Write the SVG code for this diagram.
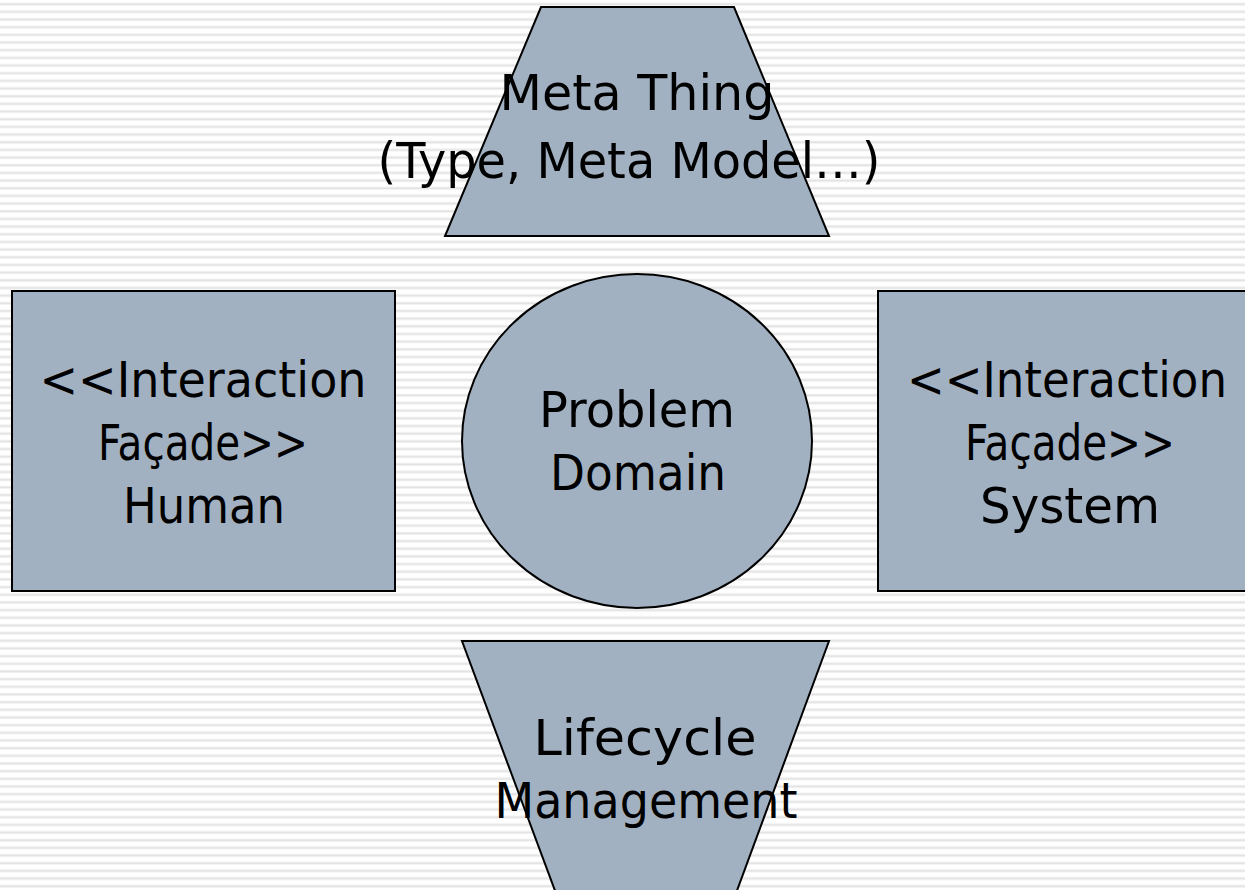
<svg xmlns="http://www.w3.org/2000/svg" width="1245" height="890" viewBox="0 0 1245 890">
  <defs>
    <!-- horizontal pinstripe background -->
    <pattern id="stripes" x="0" y="0" width="20" height="7.67" patternUnits="userSpaceOnUse">
      <rect x="0" y="0" width="20" height="7.67" fill="#ffffff"/>
      <rect x="0" y="2.6" width="20" height="0.8" fill="#f0f0f0"/>
      <rect x="0" y="3.4" width="20" height="1.6" fill="#e2e2e2"/>
      <rect x="0" y="5.0" width="20" height="0.8" fill="#f0f0f0"/>
    </pattern>
    <style>
      .shape { fill: #a2b1c1; stroke: #000000; stroke-width: 2; stroke-linejoin: miter; }
      .label { font-family: "Comic Sans MS", "DejaVu Sans", "Liberation Sans", sans-serif; font-size: 50px; fill: #000000; text-anchor: middle; }
    </style>
  </defs>

  <rect x="0" y="0" width="1245" height="890" fill="url(#stripes)"/>

  <g id="meta-thing">
    <polygon class="shape" points="541,7 734,7 829,236 445,236"/>
    <text class="label" x="637" y="110" textLength="275" lengthAdjust="spacingAndGlyphs">Meta Thing</text>
    <text class="label" x="629" y="178" textLength="503" lengthAdjust="spacingAndGlyphs">(Type, Meta Model…)</text>
  </g>

  <g id="facade-human">
    <rect class="shape" x="12" y="291" width="383" height="300"/>
    <text class="label" x="203" y="397" textLength="327" lengthAdjust="spacingAndGlyphs">&lt;&lt;Interaction</text>
    <text class="label" x="203" y="460" textLength="210" lengthAdjust="spacingAndGlyphs">Façade&gt;&gt;</text>
    <text class="label" x="204" y="523" textLength="162" lengthAdjust="spacingAndGlyphs">Human</text>
  </g>

  <g id="problem-domain">
    <ellipse class="shape" cx="637" cy="441" rx="175" ry="167"/>
    <text class="label" x="637" y="427" textLength="196" lengthAdjust="spacingAndGlyphs">Problem</text>
    <text class="label" x="638" y="490" textLength="176" lengthAdjust="spacingAndGlyphs">Domain</text>
  </g>

  <g id="facade-system">
    <rect class="shape" x="878" y="291" width="380" height="300"/>
    <text class="label" x="1067" y="397" textLength="320" lengthAdjust="spacingAndGlyphs">&lt;&lt;Interaction</text>
    <text class="label" x="1070" y="460" textLength="210" lengthAdjust="spacingAndGlyphs">Façade&gt;&gt;</text>
    <text class="label" x="1070" y="523" textLength="180" lengthAdjust="spacingAndGlyphs">System</text>
  </g>

  <g id="lifecycle-management">
    <polygon class="shape" points="462,641 829,641 735,896 557,896"/>
    <text class="label" x="645" y="755" textLength="223" lengthAdjust="spacingAndGlyphs">Lifecycle</text>
    <text class="label" x="646" y="818" textLength="303" lengthAdjust="spacingAndGlyphs">Management</text>
  </g>

  <g id="connectors"></g>
</svg>
